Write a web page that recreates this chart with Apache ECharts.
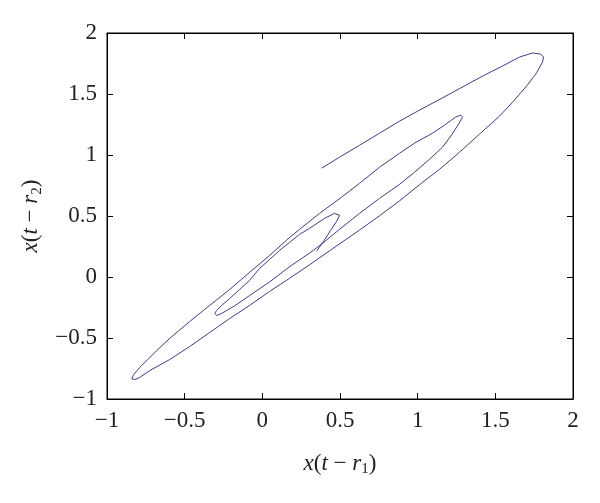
<!DOCTYPE html>
<html>
<head>
<meta charset="utf-8">
<script src="https://cdn.jsdelivr.net/npm/echarts@6/dist/echarts.min.js"></script>
<style>html,body{margin:0;padding:0;background:#fff}#c{width:600px;height:503px}</style>
</head>
<body>
<div id="c"></div>
<script>
// Trajectory x(t - r1), in drawing order
const xValues = [
  0.349, 0.394, 0.440, 0.478, 0.497, 0.491, 0.465,
  0.401, 0.304, 0.240, 0.176, 0.111, 0.047, -0.017, -0.082, -0.146, -0.210, -0.262, -0.294, -0.307, -0.294,
  -0.262, -0.178, -0.082, 0.047, 0.176, 0.304, 0.388, 0.497, 0.626, 0.755, 0.884, 0.980, 1.077, 1.160, 1.218, 1.263, 1.289, 1.276, 1.244,
  1.173, 1.096, 0.980, 0.884, 0.755, 0.626, 0.510, 0.369, 0.240, 0.176, 0.047, -0.082, -0.210, -0.339, -0.468, -0.597, -0.680, -0.738, -0.790, -0.828, -0.841, -0.822, -0.790,
  -0.725, -0.597, -0.468, -0.339, -0.210, -0.082, 0.047, 0.176, 0.304, 0.433, 0.626, 0.755, 0.884, 1.032, 1.141, 1.270, 1.398, 1.527, 1.611, 1.701, 1.765, 1.804, 1.810, 1.791,
  1.739, 1.656, 1.546, 1.431, 1.334, 1.205, 1.012, 0.884, 0.755, 0.626, 0.497, 0.382
];
// Trajectory x(t - r2)
const yValues = [
  0.210, 0.292, 0.383, 0.456, 0.506, 0.522, 0.522,
  0.481, 0.399, 0.350, 0.284, 0.218, 0.144, 0.071, -0.028, -0.102, -0.176, -0.233, -0.274, -0.299, -0.315,
  -0.299, -0.236, -0.152, -0.040, 0.085, 0.196, 0.276, 0.391, 0.522, 0.645, 0.760, 0.859, 0.966, 1.064, 1.163, 1.253, 1.310, 1.327, 1.310,
  1.245, 1.179, 1.097, 1.015, 0.900, 0.768, 0.654, 0.522, 0.391, 0.325, 0.177, 0.038, -0.102, -0.233, -0.365, -0.504, -0.603, -0.677, -0.742, -0.800, -0.833, -0.841, -0.824,
  -0.767, -0.677, -0.570, -0.455, -0.340, -0.233, -0.118, -0.010, 0.100, 0.215, 0.385, 0.502, 0.625, 0.777, 0.883, 1.023, 1.171, 1.319, 1.433, 1.565, 1.672, 1.762, 1.803, 1.828,
  1.836, 1.803, 1.729, 1.655, 1.589, 1.499, 1.368, 1.278, 1.179, 1.080, 0.982, 0.892
];
const axisMin = -1, axisMax = 2, axisStep = 0.5;

const pts = xValues.map((x, i) => [x, yValues[i]]);
const serif = 'Liberation Serif';
const fmt = v => (Math.round(v * 10) / 10).toString().replace('-', '\u2212');
const rich = {
  n: { fontFamily: serif, fontSize: 23, color: '#222' },
  i: { fontFamily: serif, fontSize: 23, fontStyle: 'italic', color: '#222' },
  s: { fontFamily: serif, fontSize: 15, color: '#222', padding: [11, 0, 0, 0] }
};
function valAxis(pos, showLabels, nameTxt, gap) {
  return {
    type: 'value', position: pos, min: axisMin, max: axisMax, interval: axisStep,
    axisLine: { show: true, onZero: false, lineStyle: { color: '#000', width: 1 } },
    axisTick: { show: true, inside: true, length: 6, lineStyle: { color: '#000' } },
    splitLine: { show: false },
    axisLabel: { show: showLabels, formatter: fmt, fontFamily: serif, fontSize: 23, color: '#222', margin: 10 },
    name: nameTxt || '', nameLocation: 'middle', nameGap: gap || 0,
    nameTextStyle: { rich: rich }
  };
}
const chart = echarts.init(document.getElementById('c'), null, { renderer: 'canvas' });
const xa = valAxis('bottom', true, '{i|x}{n|(}{i|t}{n| \u2212 }{i|r}{s|1}{n|)}', 52);
const xt = valAxis('top', false);
const ya = valAxis('left', true, '{i|x}{n|(}{i|t}{n| \u2212 }{i|r}{s|2}{n|)}', 62);
const yr = valAxis('right', false);
chart.setOption({
  animation: false,
  backgroundColor: '#fff',
  grid: { left: 107, right: 27, top: 33, bottom: 104, show: true, borderColor: '#000', borderWidth: 1, backgroundColor: '#fff' },
  xAxis: [xa, xt],
  yAxis: [ya, yr],
  series: [{
    type: 'line', data: pts, xAxisIndex: 0, yAxisIndex: 0,
    showSymbol: false, symbol: 'none',
    lineStyle: { color: '#3d3d85', width: 1 },
    smooth: false
  }]
});
</script>
</body>
</html>
